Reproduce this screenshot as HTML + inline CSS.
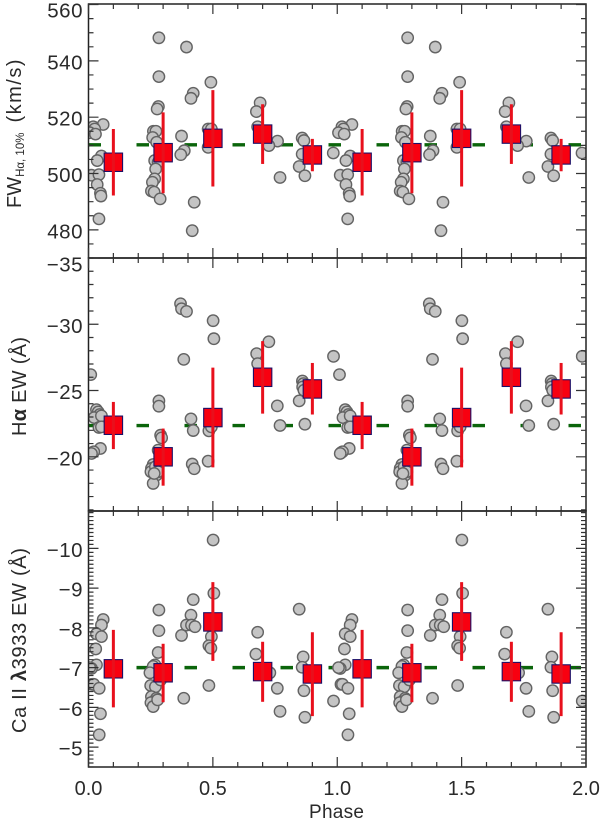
<!DOCTYPE html>
<html lang="en">
<head>
<meta charset="utf-8">
<title>Phase-folded line measurements</title>
<style>
html,body{margin:0;padding:0;background:#fff;width:600px;height:821px;overflow:hidden}
svg{display:block}
text{font-family:"Liberation Sans",sans-serif;fill:#2a2a2a}
</style>
</head>
<body>
<svg id="chart" xmlns="http://www.w3.org/2000/svg" width="600" height="821" viewBox="0 0 600 821">
  <rect x="0" y="0" width="600" height="821" fill="#fff"/>
  <defs>
    <clipPath id="clip-plot"><rect x="88.5" y="4" width="497.5" height="763"/></clipPath>
  </defs>
  <g id="marks"></g>
  <g id="axes"></g>
  <text transform="translate(21 208) rotate(-90)" font-size="20">FW<tspan font-size="11.5" dy="3">Hα, 10%</tspan><tspan dy="-3" dx="10" letter-spacing="1.5">(km/s)</tspan></text>
  <text transform="translate(26 436) rotate(-90)" font-size="20" textLength="99" lengthAdjust="spacing">H<tspan font-weight="bold">α</tspan> EW (Å)</text>
  <text transform="translate(26 733) rotate(-90)" font-size="20" textLength="185" lengthAdjust="spacing">Ca II <tspan font-weight="bold">λ</tspan>3933 EW (Å)</text>
  <text x="309" y="818" font-size="19" textLength="55" lengthAdjust="spacing">Phase</text>
</svg>
<script>
// Panel 1: FW Halpha 10%
const fwPhases = [.042,.059,.019,.025,.005,.028,.052,.035,.012,.042,.035,.048,.05,
  .283,.283,.281,.276,.261,.271,.258,.274,.266,.28,.27,.266,.257,.253,.264,.288,
  .374,.385,.371,.394,.421,.412,.425,.417,.492,.481,.494,.481,
  .69,.675,.68,.76,.725,.77,.859,.866,.859,.847,.87,.984];
const fwValues = [483.9,517.4,516.6,515.8,514.5,514,506.2,504.6,499.4,499.6,496.1,493,492,
  548.2,534.4,523.8,522.9,515,515,512.8,511.1,504.6,504,501.6,498.1,496.9,493.8,493.4,491,
  513.3,508.1,506.7,544.9,528.5,526.7,489.8,479.7,532.4,515.8,515.8,509.3,
  525.1,522,516.6,511.5,509.9,498.6,512.6,511.7,506.9,502.5,499.2,507.3];
// Panel 2: Halpha EW
const haPhases = [.985,.009,.032,.039,.045,.023,.052,.042,.052,.048,.015,.021,.012,
  .283,.283,.29,.294,.28,.26,.253,.251,.273,.26,.269,.28,.264,
  .383,.37,.374,.394,.412,.421,.417,.425,.501,.504,.481,.484,.494,
  .676,.68,.725,.759,.77,.86,.864,.861,.866,.847,.87];
const haValues = [-27.58,-26.2,-23.56,-23.39,-23.19,-22.96,-23.09,-22.21,-22.26,-20.63,-20.3,-20.38,-20.25,
  -24.22,-23.82,-21.63,-21.43,-20.5,-19.42,-19.12,-18.87,-18.62,-17.99,-19.25,-18.87,-18.74,
  -27.35,-31.55,-31.17,-30.97,-22.86,-21.98,-19.45,-19.1,-30.27,-28.91,-19.67,-21.96,-22.26,
  -27.78,-27.03,-28.68,-23.84,-22.36,-25.72,-25.52,-25.27,-25.02,-24.22,-22.46];
// Panel 3: Ca II 3933 EW
const caPhases = [.059,.052,.032,.052,.029,.032,.012,.005,.015,.021,.043,.985,.048,.043,
  .283,.283,.28,.267,.26,.247,.25,.269,.29,.253,.273,.26,.251,.26,.278,
  .383,.374,.412,.421,.394,.414,.428,.501,.504,.494,.484,.492,.484,
  .68,.673,.729,.759,.77,.847,.863,.859,.866,.87];
const caValues = [-8.21,-8.07,-7.85,-7.78,-7.47,-7.07,-6.98,-7.0,-6.58,-6.58,-6.48,-6.16,-5.84,-5.31,
  -8.45,-7.93,-7.38,-7.07,-7.03,-6.87,-6.55,-6.52,-6.69,-6.27,-6.23,-6.14,-6.12,-6.02,-6.19,
  -6.23,-7.81,-8.32,-8.71,-8.07,-8.07,-8.03,-10.21,-8.87,-7.78,-7.55,-7.49,-6.55,
  -7.89,-7.34,-6.87,-6.48,-5.9,-8.47,-7.27,-7.01,-6.42,-5.75];
// Binned means
const binPhases = [.1,.3,.5,.7,.9];
const fwBinMeans = [504,507.4,512.5,514,506.6];
const fwBinLow = [492.2,493,495.4,503.4,500.8];
const fwBinHigh = [515.8,521.7,529.6,524.6,512.3];
const haBinMeans = [-22.38,-20,-22.96,-26,-25.12];
const haBinLow = [-20.58,-17.82,-19.2,-23.26,-23.19];
const haBinHigh = [-24.14,-22.13,-26.73,-28.73,-27.08];
const caBinMeans = [-6.97,-6.87,-8.15,-6.9,-6.84];
const caBinLow = [-6,-6.13,-7.17,-6.14,-5.78];
const caBinHigh = [-7.95,-7.6,-9.15,-7.65,-7.89];
// Reference levels
const fwMeanLevel = 510.2;
const haMeanLevel = -22.36;
const caMeanLevel = -7;
// Tick labels
const xTickValues = [0,0.5,1,1.5,2];
const xTickLabels = ["0.0","0.5","1.0","1.5","2.0"];
const fwTickValues = [480,500,520,540,560];
const fwTickLabels = ["480","500","520","540","560"];
const haTickValues = [-35,-30,-25,-20];
const haTickLabels = ["−35","−30","−25","−20"];
const caTickValues = [-10,-9,-8,-7,-6,-5];
const caTickLabels = ["−10","−9","−8","−7","−6","−5"];

const NS = "http://www.w3.org/2000/svg";
const marks = document.getElementById("marks");
const axes = document.getElementById("axes");
const X_LEFT = 88.5, X_RIGHT = 586, PHASE_MAX = 2;
function xScale(p){ return X_LEFT + p * (X_RIGHT - X_LEFT) / PHASE_MAX; }
function linearY(d0, d1, top, bottom){
  return function(v){ return bottom + (v - d0) * (top - bottom) / (d1 - d0); };
}
function svgEl(tag, attrs, parent){
  const el = document.createElementNS(NS, tag);
  for (const k in attrs) el.setAttribute(k, attrs[k]);
  parent.appendChild(el);
  return el;
}
function drawPanel(cfg){
  const y = linearY(cfg.dom[0], cfg.dom[1], cfg.top, cfg.bottom);
  const g = svgEl("g", {"clip-path":"url(#clip-plot)"}, marks);
  
  

  const level = svgEl("line", {x1:X_LEFT, x2:581, y1:y(cfg.level), y2:y(cfg.level), stroke:"#0b650b", "stroke-width":3.4, "stroke-dasharray":"12.5 35.5"}, g);
  
  

  for (let cycle = 0; cycle < 2; cycle++){
    cfg.phases.forEach(function(p, i){
      const c = svgEl("circle", {cx:xScale(p + cycle), cy:y(cfg.values[i]), r:5.7, fill:"#c4c4c4", stroke:"#636363", "stroke-width":1.4}, g);
      
      
    });
  }
  for (let cycle = 0; cycle < 2; cycle++){
    binPhases.forEach(function(p, i){
      const cx = xScale(p + cycle), cy = y(cfg.means[i]);
      const sq = svgEl("rect", {x:cx - 9.2, y:cy - 9.2, width:18.4, height:18.4, fill:"#f80010", stroke:"#1c0f66", "stroke-width":1.1}, g);
      
      
      const bar = svgEl("line", {x1:cx, x2:cx, y1:y(cfg.low[i]), y2:y(cfg.high[i]), stroke:"#e8101c", "stroke-width":3}, g);
      
      
    });
  }

  const a = svgEl("g", {}, axes);
  
  
  const frame = svgEl("rect", {x:X_LEFT, y:cfg.top, width:X_RIGHT - X_LEFT, height:cfg.bottom - cfg.top, fill:"none", stroke:"#222", "stroke-width":1.5}, a);
  
  

  let d = "";
  for (let i = 0; i <= PHASE_MAX * 10; i++){
    const x = xScale(i / 10), len = (i % 5 === 0) ? 10 : 5;
    d += "M" + x + " " + cfg.top + "v" + len + "M" + x + " " + cfg.bottom + "v" + (-len);
  }
  const lo = Math.min(cfg.dom[0], cfg.dom[1]), hi = Math.max(cfg.dom[0], cfg.dom[1]);
  const start = Math.ceil(lo / cfg.minor - 1e-6);
  const stop = Math.floor(hi / cfg.minor + 1e-6);
  for (let k = start; k <= stop; k++){
    const v = k * cfg.minor;
    const isMajor = cfg.tickValues.some(function(t){ return Math.abs(t - v) < 1e-6; });
    const len = isMajor ? 10 : 5, yy = y(v);
    d += "M" + X_LEFT + " " + yy + "h" + len + "M" + X_RIGHT + " " + yy + "h" + (-len);
  }
  const ticks = svgEl("path", {d:d, fill:"none", stroke:"#333", "stroke-width":1.2}, a);
  
  

  cfg.tickValues.forEach(function(v, i){
    const base = Math.max(cfg.top + 13.5, y(v) + 8.5);
    const t = svgEl("text", {x:83, y:base, "font-size":20.5, "letter-spacing":0.5, "text-anchor":"end"}, a);
    t.textContent = cfg.tickLabels[i];
    
    
  });
}

drawPanel({name:"fwhm-panel", top:4, bottom:258, dom:[470,560.2], minor:5, level:fwMeanLevel,
  phases:fwPhases, values:fwValues, means:fwBinMeans, low:fwBinLow, high:fwBinHigh,
  tickValues:fwTickValues, tickLabels:fwTickLabels});
drawPanel({name:"halpha-panel", top:258, bottom:511, dom:[-15.91,-35], minor:1, level:haMeanLevel,
  phases:haPhases, values:haValues, means:haBinMeans, low:haBinLow, high:haBinHigh,
  tickValues:haTickValues, tickLabels:haTickLabels});
drawPanel({name:"caii-panel", top:511, bottom:767, dom:[-4.5,-10.94], minor:0.1, level:caMeanLevel,
  phases:caPhases, values:caValues, means:caBinMeans, low:caBinLow, high:caBinHigh,
  tickValues:caTickValues, tickLabels:caTickLabels});

xTickValues.forEach(function(v, i){
  const t = svgEl("text", {x:xScale(v), y:795, "font-size":20, "text-anchor":"middle"}, axes);
  t.textContent = xTickLabels[i];
  
  
});
</script>
</body>
</html>
